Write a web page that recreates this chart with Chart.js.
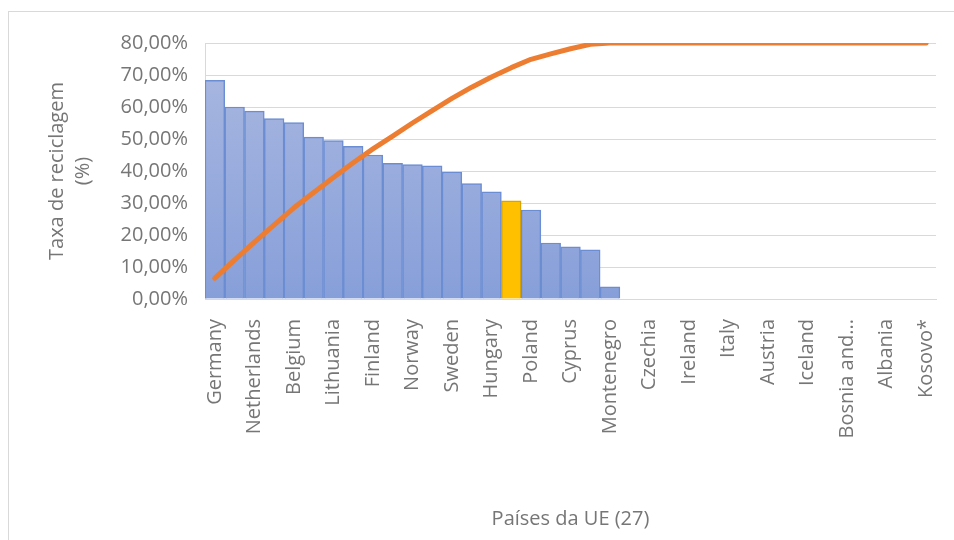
<!DOCTYPE html>
<html>
<head>
<meta charset="utf-8">
<script src="https://cdn.jsdelivr.net/npm/chart.js@4/dist/chart.umd.min.js"></script>
<style>
  html, body { margin: 0; padding: 0; background: #fff; }
  .frame { position: absolute; left: 8px; top: 11px; width: 980px; height: 560px; border: 1px solid #d9d9d9; }
  .wrap { position: absolute; left: 0; top: 0; width: 954px; height: 540px; }
</style>
</head>
<body>
<div class="frame"></div>
<div class="wrap"><canvas id="chart" width="954" height="540"></canvas></div>
<script>
// países ordenados pela taxa de reciclagem (só metade dos rótulos aparece no eixo)
const countries = [
  "Germany", "Slovenia", "Netherlands", "Luxembourg", "Belgium", "Denmark", "Lithuania",
  "Slovakia", "Finland", "Estonia", "Norway", "Spain", "Sweden", "Latvia", "Hungary",
  "Portugal", "Poland", "Croatia", "Cyprus", "Romania", "Montenegro", "Bulgaria", "Czechia",
  "Greece", "Ireland", "France", "Italy", "Malta", "Austria", "Liechtenstein", "Iceland",
  "Switzerland", "Bosnia and...", "North Macedonia", "Albania", "Serbia", "Kosovo*",
];

// taxa de reciclagem (%)
const rates = [
  68.3, 60.0, 58.7, 56.4, 55.1, 50.6, 49.5, 47.7, 45.0, 42.4, 42.0, 41.6, 39.7, 36.1,
  33.5, 30.7, 27.8, 17.5, 16.3, 15.4, 3.8, 0, 0, 0, 0, 0, 0, 0, 0, 0, 0, 0, 0, 0, 0, 0, 0,
];

// linha acumulada
const cumulative = [
  6.5, 12.2, 17.8, 23.2, 28.5, 33.3, 38.0, 42.6, 46.9, 50.9, 55.0, 58.9, 62.7, 66.2,
  69.4, 72.3, 74.9, 76.6, 78.2, 79.6, 80.0, 80.0, 80.0, 80.0, 80.0, 80.0, 80.0, 80.0,
  80.0, 80.0, 80.0, 80.0, 80.0, 80.0, 80.0, 80.0, 80.0,
];

const highlight = "Portugal";
const yTicks = { min: 0, max: 80, step: 10 };

const textColor = "#767676";
const gridColor = "#d9d9d9";

Chart.defaults.font.family = "'Open Sans', sans-serif";
Chart.defaults.font.size = 20;
Chart.defaults.color = textColor;

function barFill(ctx) {
  if (countries[ctx.dataIndex] === highlight) return "#ffc000";
  const area = ctx.chart.chartArea;
  if (!area) return "#98abdc";
  const g = ctx.chart.ctx.createLinearGradient(0, area.top, 0, area.bottom);
  g.addColorStop(0, "#abb9e1");
  g.addColorStop(1, "#879fd9");
  return g;
}

new Chart(document.getElementById("chart"), {
  type: "bar",
  data: {
    labels: countries,
    datasets: [
      {
        type: "line",
        label: "Acumulado",
        data: cumulative,
        borderColor: "#ed7d31",
        backgroundColor: "#ed7d31",
        borderWidth: 5,
        borderCapStyle: "round",
        borderJoinStyle: "round",
        pointRadius: 0,
        tension: 0,
        order: 0,
      },
      {
        label: "Taxa de reciclagem",
        data: rates,
        backgroundColor: barFill,
        borderColor: (ctx) => (countries[ctx.dataIndex] === highlight ? "#d9a300" : "#6b8dd3"),
        borderWidth: 1.5,
        barPercentage: 1,
        categoryPercentage: 1,
        order: 1,
      },
    ],
  },
  options: {
    responsive: false,
    animation: false,
    layout: { padding: { left: 0, top: 43, right: 18, bottom: 0 } },
    plugins: { legend: { display: false }, tooltip: { enabled: false } },
    scales: {
      x: {
        offset: true,
        grid: { display: false },
        border: { display: true, color: gridColor },
        ticks: {
          autoSkip: false,
          minRotation: 90,
          maxRotation: 90,
          padding: 12,
          font: { size: 20 },
          callback: (v, i) => (i % 2 === 0 ? countries[i] : ""),
        },
        title: {
          display: true,
          text: "Países da UE (27)",
          font: { size: 20, lineHeight: 1.2 },
          padding: { top: 0, bottom: 9 },
        },
        afterFit: (scale) => {
          scale.height = 241;
          scale.paddingLeft = 0;
          scale.paddingRight = 0;
        },
      },
      y: {
        min: yTicks.min,
        max: yTicks.max,
        grid: { color: gridColor, drawTicks: false },
        border: { display: true, color: gridColor },
        ticks: {
          stepSize: yTicks.step,
          padding: 17,
          font: { size: 20 },
          callback: (v) => v.toFixed(2).replace(".", ",") + "%",
        },
        title: {
          display: true,
          text: ["Taxa de reciclagem", "(%)"],
          font: { size: 20, lineHeight: 1.3 },
          padding: { top: 44, bottom: 0 },
        },
        afterFit: (scale) => { scale.width = 205; },
      },
    },
  },
});
</script>
</body>
</html>
